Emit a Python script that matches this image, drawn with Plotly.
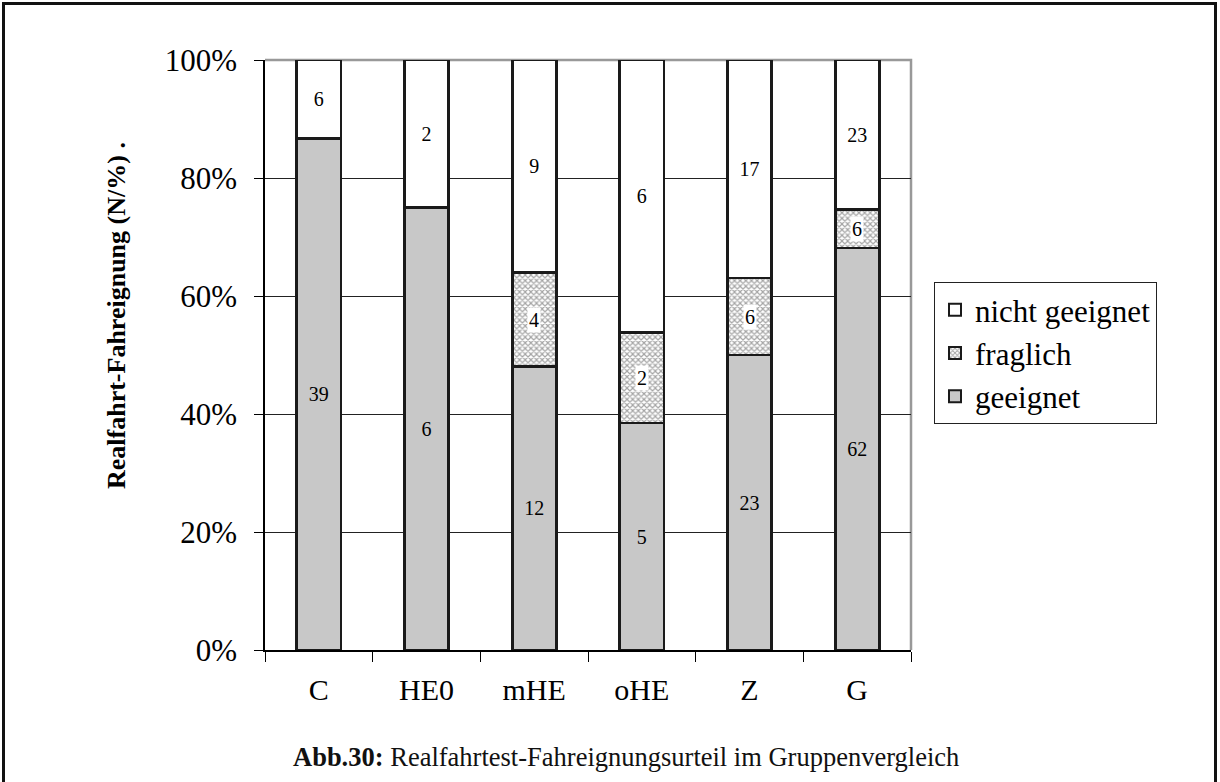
import plotly.graph_objects as go

categories = ["C", "HE0", "mHE", "oHE", "Z", "G"]
geeignet = [39, 6, 12, 5, 23, 62]
fraglich = [0, 0, 4, 2, 6, 6]
nicht_geeignet = [6, 2, 9, 6, 17, 23]
y_ticks = [0, 20, 40, 60, 80, 100]
y_ticktext = ["0%", "20%", "40%", "60%", "80%", "100%"]

FONT = "Liberation Serif, Times New Roman, serif"
W, H = 1220, 782
L, R, T, B = 265, 1220 - 911, 60, 782 - 650
PW, PH = W - L - R, H - T - B

def px_x(x):
    return (x - L) / PW

def px_y(y):
    return (H - B - y) / PH

fig = go.Figure()

def txt(vals):
    return [str(v) if v else "" for v in vals]

fig.add_trace(go.Bar(
    name="geeignet", x=categories, y=geeignet, text=txt(geeignet),
    marker=dict(color="#c8c8c8", line=dict(color="#1a1a1a", width=2.8)),
))
fig.add_trace(go.Bar(
    name="fraglich", x=categories, y=fraglich,
    marker=dict(color="white", line=dict(color="#1a1a1a", width=2.8),
                pattern=dict(shape="x", size=4, solidity=0.5,
                             fgcolor="#4a4a4a", bgcolor="white", fillmode="overlay")),
))
fig.add_trace(go.Bar(
    name="nicht geeignet", x=categories, y=nicht_geeignet, text=txt(nicht_geeignet),
    marker=dict(color="white", line=dict(color="#1a1a1a", width=2.8)),
))
fig.update_traces(textposition="inside", insidetextanchor="middle",
                  textfont=dict(family=FONT, size=20, color="black"),
                  constraintext="none", width=0.41)

# labels for the patterned segment, with white box
annotations = []
for c, g, f, n in zip(categories, geeignet, fraglich, nicht_geeignet):
    if f:
        tot = g + f + n
        mid = (g + f / 2) / tot * 100
        annotations.append(dict(x=c, y=mid, xref="x", yref="y", text=str(f),
                                showarrow=False, bgcolor="white", borderpad=1,
                                font=dict(family=FONT, size=20, color="black")))

annotations.append(dict(
    x=px_x(116), y=px_y(316), xref="paper", yref="paper",
    xanchor="center", yanchor="middle",
    text="<b>Realfahrt-Fahreignung (N/%) .</b>", textangle=-90, showarrow=False,
    font=dict(family=FONT, size=26, color="black")))
annotations.append(dict(
    x=px_x(626), y=px_y(757), xref="paper", yref="paper",
    xanchor="center", yanchor="middle",
    text="<b>Abb.30:</b> Realfahrtest-Fahreignungsurteil im Gruppenvergleich",
    showarrow=False, font=dict(family=FONT, size=26.5, color="#111")))

shapes = [
    # outer frame
    dict(type="rect", xref="paper", yref="paper",
         x0=px_x(3.5), x1=px_x(1215.5), y0=px_y(830), y1=px_y(3.5),
         line=dict(color="#111", width=3), fillcolor="rgba(0,0,0,0)", layer="above"),
    # gray plot-area border (top and right)
    dict(type="path", xref="paper", yref="paper",
         path="M 0 1 L 1 1 L 1 0", line=dict(color="#999", width=2.5), layer="below"),
]

fig.update_layout(
    width=W, height=H,
    margin=dict(l=L, r=R, t=T, b=B, pad=0),
    barmode="stack", barnorm="percent",
    paper_bgcolor="white", plot_bgcolor="white",
    font=dict(family=FONT, color="black"),
    showlegend=True,
    legend=dict(x=px_x(934), y=px_y(353), xanchor="left", yanchor="middle",
                traceorder="reversed", bordercolor="#222", borderwidth=1,
                font=dict(family=FONT, size=31, color="black"),
                bgcolor="white", itemsizing="constant", tracegroupgap=0,
                itemwidth=30),
    annotations=annotations,
    shapes=shapes,
    uniformtext=dict(mode=False),
)
fig.update_xaxes(
    type="category", tickson="boundaries", ticks="outside", ticklen=10,
    tickcolor="black", tickwidth=1, showline=True, linecolor="black", linewidth=1.5,
    showgrid=False, ticklabelstandoff=12,
    tickfont=dict(family=FONT, size=30, color="black"),
)
fig.update_yaxes(
    range=[0, 100], tickvals=y_ticks, ticktext=y_ticktext, ticks="outside",
    ticklen=9, tickcolor="black", tickwidth=1, showline=True, linecolor="black",
    linewidth=1.5, showgrid=True, gridcolor="#222", gridwidth=1,
    zeroline=False, ticklabelstandoff=11,
    tickfont=dict(family=FONT, size=31, color="black"),
)

fig.write_html("out.html")
